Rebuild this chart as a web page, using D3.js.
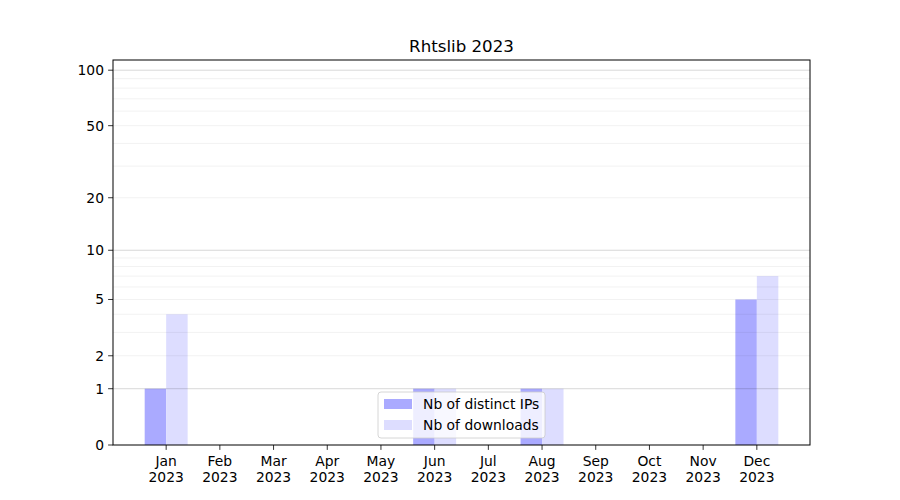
<!DOCTYPE html>
<html><head><meta charset="utf-8">
<script src="https://cdn.jsdelivr.net/npm/d3@7"></script>
<style>body{margin:0;background:#fff}svg{font-family:"DejaVu Sans",sans-serif}</style>
</head><body>
<svg id="c" width="900" height="500"></svg>
<script>
const months = ["Jan","Feb","Mar","Apr","May","Jun","Jul","Aug","Sep","Oct","Nov","Dec"];
const year = "2023";
const distinctIPs = [1,0,0,0,0,1,0,1,0,0,0,5];
const downloads   = [4,0,0,0,0,1,0,1,0,0,0,7];
const majorTicks = [0,1,2,5,10,20,50,100];
const gridMajor = [1,10,100];
const gridMinor = [2,3,4,5,6,7,8,9,20,30,40,50,60,70,80,90];
const title = "Rhtslib 2023";
const seriesNames = ["Nb of distinct IPs","Nb of downloads"];
const colors = ["#aaaaff","#ddddff"];

const svg = d3.select("#c");
const L=113,R=810,T=60,B=445;
const x = d3.scaleLinear().domain([-0.99, 11.99]).range([L,R]);
const ylin = d3.scaleLinear().domain([0, Math.log10(1+113.5)]).range([B,T]);
const y = v => ylin(Math.log10(1+v));
const bw = 0.4;
const fs = "13.89px";

// bars
const g = svg.append("g");
g.selectAll("rect.ip").data(distinctIPs).join("rect")
  .attr("x",(d,i)=>x(i-bw)).attr("width",x(bw)-x(0))
  .attr("y",d=>y(d)).attr("height",d=>B-y(d)).attr("fill",colors[0]);
g.selectAll("rect.dl").data(downloads).join("rect")
  .attr("x",(d,i)=>x(i)).attr("width",x(bw)-x(0))
  .attr("y",d=>y(d)).attr("height",d=>B-y(d)).attr("fill",colors[1]);

// grid
svg.append("g").selectAll("line").data(gridMinor).join("line")
  .attr("x1",L).attr("x2",R).attr("y1",d=>y(d)).attr("y2",d=>y(d))
  .attr("stroke","#000").attr("stroke-opacity",0.07).attr("stroke-width",0.8);
svg.append("g").selectAll("line").data(gridMajor).join("line")
  .attr("x1",L).attr("x2",R).attr("y1",d=>y(d)).attr("y2",d=>y(d))
  .attr("stroke","#000").attr("stroke-opacity",0.2).attr("stroke-width",0.8);

// frame
svg.append("rect").attr("x",L).attr("y",T).attr("width",R-L).attr("height",B-T)
  .attr("fill","none").attr("stroke","#000").attr("stroke-width",1);

// y axis
const ya = svg.append("g");
majorTicks.forEach(t=>{
  const yy = y(t);
  ya.append("line").attr("x1",L-4.9).attr("x2",L).attr("y1",yy).attr("y2",yy).attr("stroke","#000").attr("stroke-width",0.8);
  ya.append("text").attr("x",L-9).attr("y",yy).attr("dy","0.35em").attr("text-anchor","end")
    .attr("font-size",fs).attr("fill","#000").text(t);
});
// x axis
const xa = svg.append("g");
months.forEach((m,i)=>{
  const xx = x(i);
  xa.append("line").attr("x1",xx).attr("x2",xx).attr("y1",B).attr("y2",B+4.9).attr("stroke","#000").attr("stroke-width",0.8);
  const t = xa.append("text").attr("x",xx).attr("text-anchor","middle").attr("font-size",fs).attr("fill","#000");
  t.append("tspan").attr("x",xx).attr("y",B+21).text(m);
  t.append("tspan").attr("x",xx).attr("y",B+37).text(year);
});

// title
svg.append("text").attr("x",(L+R)/2).attr("y",T-8.3).attr("text-anchor","middle")
  .attr("font-size","16.67px").attr("fill","#000").text(title);

// legend
const lg = svg.append("g");
lg.append("rect").attr("x",378).attr("y",392).attr("width",167).attr("height",46).attr("rx",3)
  .attr("fill","#fff").attr("fill-opacity",0.8).attr("stroke","#ccc").attr("stroke-width",0.8);
seriesNames.forEach((n,i)=>{
  const yy = 404 + i*21;
  lg.append("rect").attr("x",384).attr("y",yy-5).attr("width",28).attr("height",10).attr("fill",colors[i]);
  lg.append("text").attr("x",423).attr("y",yy).attr("dy","0.35em").attr("font-size",fs).attr("fill","#000").text(n);
});
</script>
</body></html>
